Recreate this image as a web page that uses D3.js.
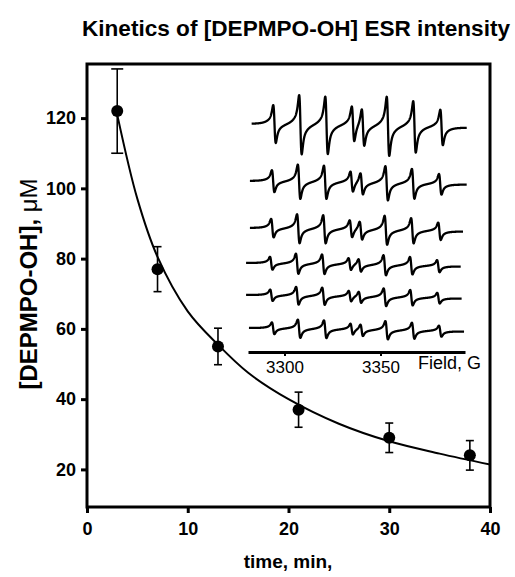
<!DOCTYPE html>
<html>
<head>
<meta charset="utf-8">
<script src="https://cdn.jsdelivr.net/npm/d3@7/dist/d3.min.js"></script>
<style>
  body { margin: 0; background: #fff; }
  text { font-family: "Liberation Sans", Arial, sans-serif; fill: #000; }
</style>
</head>
<body>
<div id="chart"></div>
<script>
  // kinetics data
  var times = [3, 7, 13, 21, 30, 38],
      conc = [122, 77, 55, 37, 29, 24],
      concErr = [12, 6.4, 5.2, 5, 4.2, 4.2],
      fitTimes = [3, 5, 7, 10, 13, 16, 20, 25, 30, 35, 40],
      fitConc = [121, 97, 80.5, 65, 55.5, 47.5, 40, 33, 28, 24.5, 21.4],
      xTicks = [0, 10, 20, 30, 40],
      yTicks = [20, 40, 60, 80, 100, 120];

  // inset ESR spectra: line positions (G), relative line heights, per-spectrum amplitude
  var linePositions = [3294.8, 3308.3, 3321.9, 3335.7, 3340.9, 3353.9, 3367.7, 3381.8],
      lineWeights = [0.64, 1, 0.97, 0.6, 0.63, 1, 0.87, 0.6],
      spectrumAmp = [1, 0.58, 0.49, 0.34, 0.3, 0.31],
      spectrumShift = [0, -0.7, -1.1, -1.7, -1.6, -0.7],
      spectrumStart = [3282.9, 3282, 3282, 3280, 3280, 3281.5],
      spectrumEnd = [3394.9, 3394.9, 3393, 3391.8, 3392.3, 3393.5],
      fieldTicks = [3300, 3350];

  var width = 515, height = 577,
      plot = { left: 87, right: 490, top: 64, bottom: 507 },
      traceBaselines = [124, 181, 228, 263, 295, 328],
      traceTilt = 3.5;

  var svg = d3.select("#chart").append("svg")
      .attr("width", width)
      .attr("height", height);

  var x = d3.scaleLinear().domain([0, 40]).range([plot.left, plot.right]),
      y = d3.scaleLinear().domain([9.3, 135.4]).range([plot.bottom, plot.top]);

  // title
  svg.append("text")
      .attr("x", 296).attr("y", 36)
      .attr("text-anchor", "middle")
      .style("font-size", "22.6px").style("font-weight", "bold")
      .text("Kinetics of [DEPMPO-OH] ESR intensity");

  // axes
  var yAxis = svg.append("g")
      .attr("transform", "translate(" + plot.left + ",0)")
      .call(d3.axisLeft(y).tickValues(yTicks).tickSize(6).tickPadding(5));
  var xAxis = svg.append("g")
      .attr("transform", "translate(0," + plot.bottom + ")")
      .call(d3.axisBottom(x).tickValues(xTicks).tickSize(6).tickPadding(9));

  [xAxis, yAxis].forEach(function(g) {
    g.select(".domain").remove();
    g.selectAll("line").attr("stroke", "#000").attr("stroke-width", 3);
    g.selectAll("text")
        .style("font-size", "18px").style("font-weight", "bold")
        .style("font-family", "'Liberation Sans', Arial, sans-serif");
  });

  svg.append("rect")
      .attr("x", plot.left).attr("y", plot.top)
      .attr("width", plot.right - plot.left)
      .attr("height", plot.bottom - plot.top)
      .attr("fill", "none").attr("stroke", "#000").attr("stroke-width", 3);

  svg.append("text")
      .attr("x", 288).attr("y", 568)
      .attr("text-anchor", "middle")
      .style("font-size", "19px").style("font-weight", "bold")
      .text("time, min,");

  var ylab = svg.append("text")
      .attr("transform", "translate(37," + 284 + ") rotate(-90)")
      .attr("text-anchor", "middle")
      .style("font-size", "24px").style("font-weight", "bold");
  ylab.append("tspan").text("[DEPMPO-OH], ");
  ylab.append("tspan").style("font-weight", "normal").text("\u03bcM");

  // fitted decay curve
  var fit = fitTimes.map(function(t, i) { return [t, fitConc[i]]; });
  svg.append("path")
      .datum(fit)
      .attr("fill", "none").attr("stroke", "#000").attr("stroke-width", 2)
      .attr("d", d3.line()
          .x(function(d) { return x(d[0]); })
          .y(function(d) { return y(d[1]); })
          .curve(d3.curveCatmullRom));

  // error bars + points
  var pts = times.map(function(t, i) { return { t: t, c: conc[i], e: concErr[i], i: i }; });
  var bars = svg.selectAll(".err").data(pts).enter().append("g").attr("class", "err")
      .attr("stroke", "#000").attr("stroke-width", 1.6);
  bars.append("line")
      .attr("x1", function(d) { return x(d.t); }).attr("x2", function(d) { return x(d.t); })
      .attr("y1", function(d) { return y(d.c - d.e); }).attr("y2", function(d) { return y(d.c + d.e); });
  [-1, 1].forEach(function(s) {
    bars.append("line")
        .attr("x1", function(d) { return x(d.t) - (d.i === 0 ? 6 : 4); })
        .attr("x2", function(d) { return x(d.t) + (d.i === 0 ? 6 : 4); })
        .attr("y1", function(d) { return y(d.c + s * d.e); })
        .attr("y2", function(d) { return y(d.c + s * d.e); });
  });
  svg.selectAll(".pt").data(pts).enter().append("circle").attr("class", "pt")
      .attr("cx", function(d) { return x(d.t); })
      .attr("cy", function(d) { return y(d.c); })
      .attr("r", 6).attr("fill", "#000");

  // ---- inset ----
  var field = d3.scaleLinear().domain([3281, 3394]).range([248, 465]),
      amp = d3.scaleLinear().domain([0, 1]).range([0, 64]);

  // first-derivative lorentzian, peak-to-peak normalised to 1
  function dLor(h, w) {
    var u = h / w;
    return -u / Math.pow(1 + u * u, 2) / 0.6495;
  }
  function spectrum(k) {
    var out = [];
    for (var h = spectrumStart[k]; h <= spectrumEnd[k]; h += 0.08) {
      var s = 0;
      linePositions.forEach(function(p, j) {
        var dh = h - (p + spectrumShift[k]);
        s += lineWeights[j] * (0.86 * dLor(dh, 1.1) + 0.14 * dLor(dh, 4));
      });
      out.push([h, s * spectrumAmp[k]]);
    }
    return out;
  }

  spectrumAmp.forEach(function(a, k) {
    var base = d3.scaleLinear().domain([3281, 3394])
        .range([traceBaselines[k], traceBaselines[k] + traceTilt]);
    svg.append("path")
        .datum(spectrum(k))
        .attr("fill", "none").attr("stroke", "#000").attr("stroke-width", 2.3)
        .attr("stroke-linejoin", "round")
        .attr("d", d3.line()
            .x(function(d) { return field(d[0]); })
            .y(function(d) { return base(d[0]) - amp(d[1]); }));
  });

  var fAxis = svg.append("g")
      .attr("transform", "translate(0,352)")
      .call(d3.axisBottom(field).tickValues(fieldTicks).tickFormat(d3.format("d"))
          .tickSize(4).tickSizeOuter(0).tickPadding(5));
  fAxis.select(".domain").attr("stroke-width", 3);
  fAxis.selectAll("line").attr("stroke-width", 2);
  fAxis.selectAll("text")
      .style("font-size", "17px")
      .style("font-family", "'Liberation Sans', Arial, sans-serif");

  svg.append("text")
      .attr("x", 418).attr("y", 369)
      .style("font-size", "18px")
      .text("Field, G");
</script>
</body>
</html>
